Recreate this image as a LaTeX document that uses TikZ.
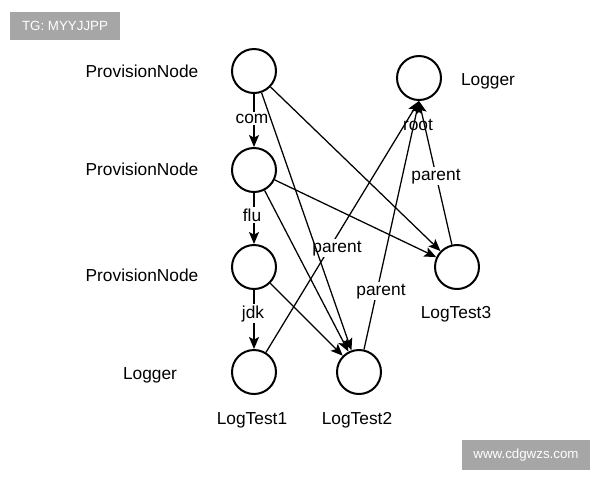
\documentclass[tikz,border=0pt]{standalone}
\usepackage{fontspec}
\setmainfont{Liberation Sans}
\usetikzlibrary{arrows.meta}
\begin{document}
\begin{tikzpicture}[x=0.75pt,y=-0.75pt,
  circ/.style={circle,draw,line width=1.5pt,minimum size=33pt,inner sep=0pt},
  lbl/.style={font=\fontsize{13}{15}\selectfont,inner sep=0pt,anchor=base},
  elbl/.style={lbl,fill=white,inner sep=1pt},
  conn/.style={line width=0.95pt,-{Stealth[length=9pt,width=7.5pt,inset=2pt]}},
  wm/.style={fill=black!35,text=white,font=\fontsize{10}{12}\selectfont,inner sep=0pt}]
\useasboundingbox (0,0) rectangle (600,480);
% watermarks
\node[wm,minimum width=82.5pt,minimum height=21pt] (wm1) at (65,26) {TG: MYYJJPP};
\node[wm,minimum width=96pt,minimum height=22.5pt] (wm2) at (526,455) {www.cdgwzs.com};
% circles
\node[circ] (p1) at (254,71) {};
\node[circ] (p2) at (254,170) {};
\node[circ] (p3) at (254,267) {};
\node[circ] (t1) at (254,372) {};
\node[circ] (t2) at (359,372) {};
\node[circ] (t3) at (457,267) {};
\node[circ] (lg) at (419,78) {};
% static labels
\node[lbl] (n1) at (142,77) {ProvisionNode};
\node[lbl] (n2) at (142,175) {ProvisionNode};
\node[lbl] (n3) at (142,281) {ProvisionNode};
\node[lbl] (n4) at (150,379) {Logger};
\node[lbl] (n5) at (488,85) {Logger};
\node[lbl] (n6) at (252,424) {LogTest1};
\node[lbl] (n7) at (357,424) {LogTest2};
\node[lbl] (n8) at (456,318) {LogTest3};
% edges under labels
\draw[conn] (p1) -- (p2);
\draw[conn] (p2) -- (p3);
\draw[conn] (p3) -- (t1);
\draw[conn] (t1) -- (lg.south);
\draw[conn] (t2) -- (lg.south);
\draw[conn] (t3) -- (lg.south);
% edge labels
\node[elbl] (e1) at (252,123) {com};
\node[elbl] (e2) at (252,221) {flu};
\node[elbl] (e3) at (253,318) {jdk};
\node[elbl] (e4) at (337,252) {parent};
\node[elbl] (e5) at (381,295) {parent};
\node[elbl] (e6) at (436,180) {parent};
\node[lbl] (e7) at (418,130) {root};
% cross edges
\draw[conn] (p1) -- (t2);
\draw[conn] (p1) -- (t3);
\draw[conn] (p2) -- (t2);
\draw[conn] (p2) -- (t3);
\draw[conn] (p3) -- (t2);
\end{tikzpicture}
\end{document}
